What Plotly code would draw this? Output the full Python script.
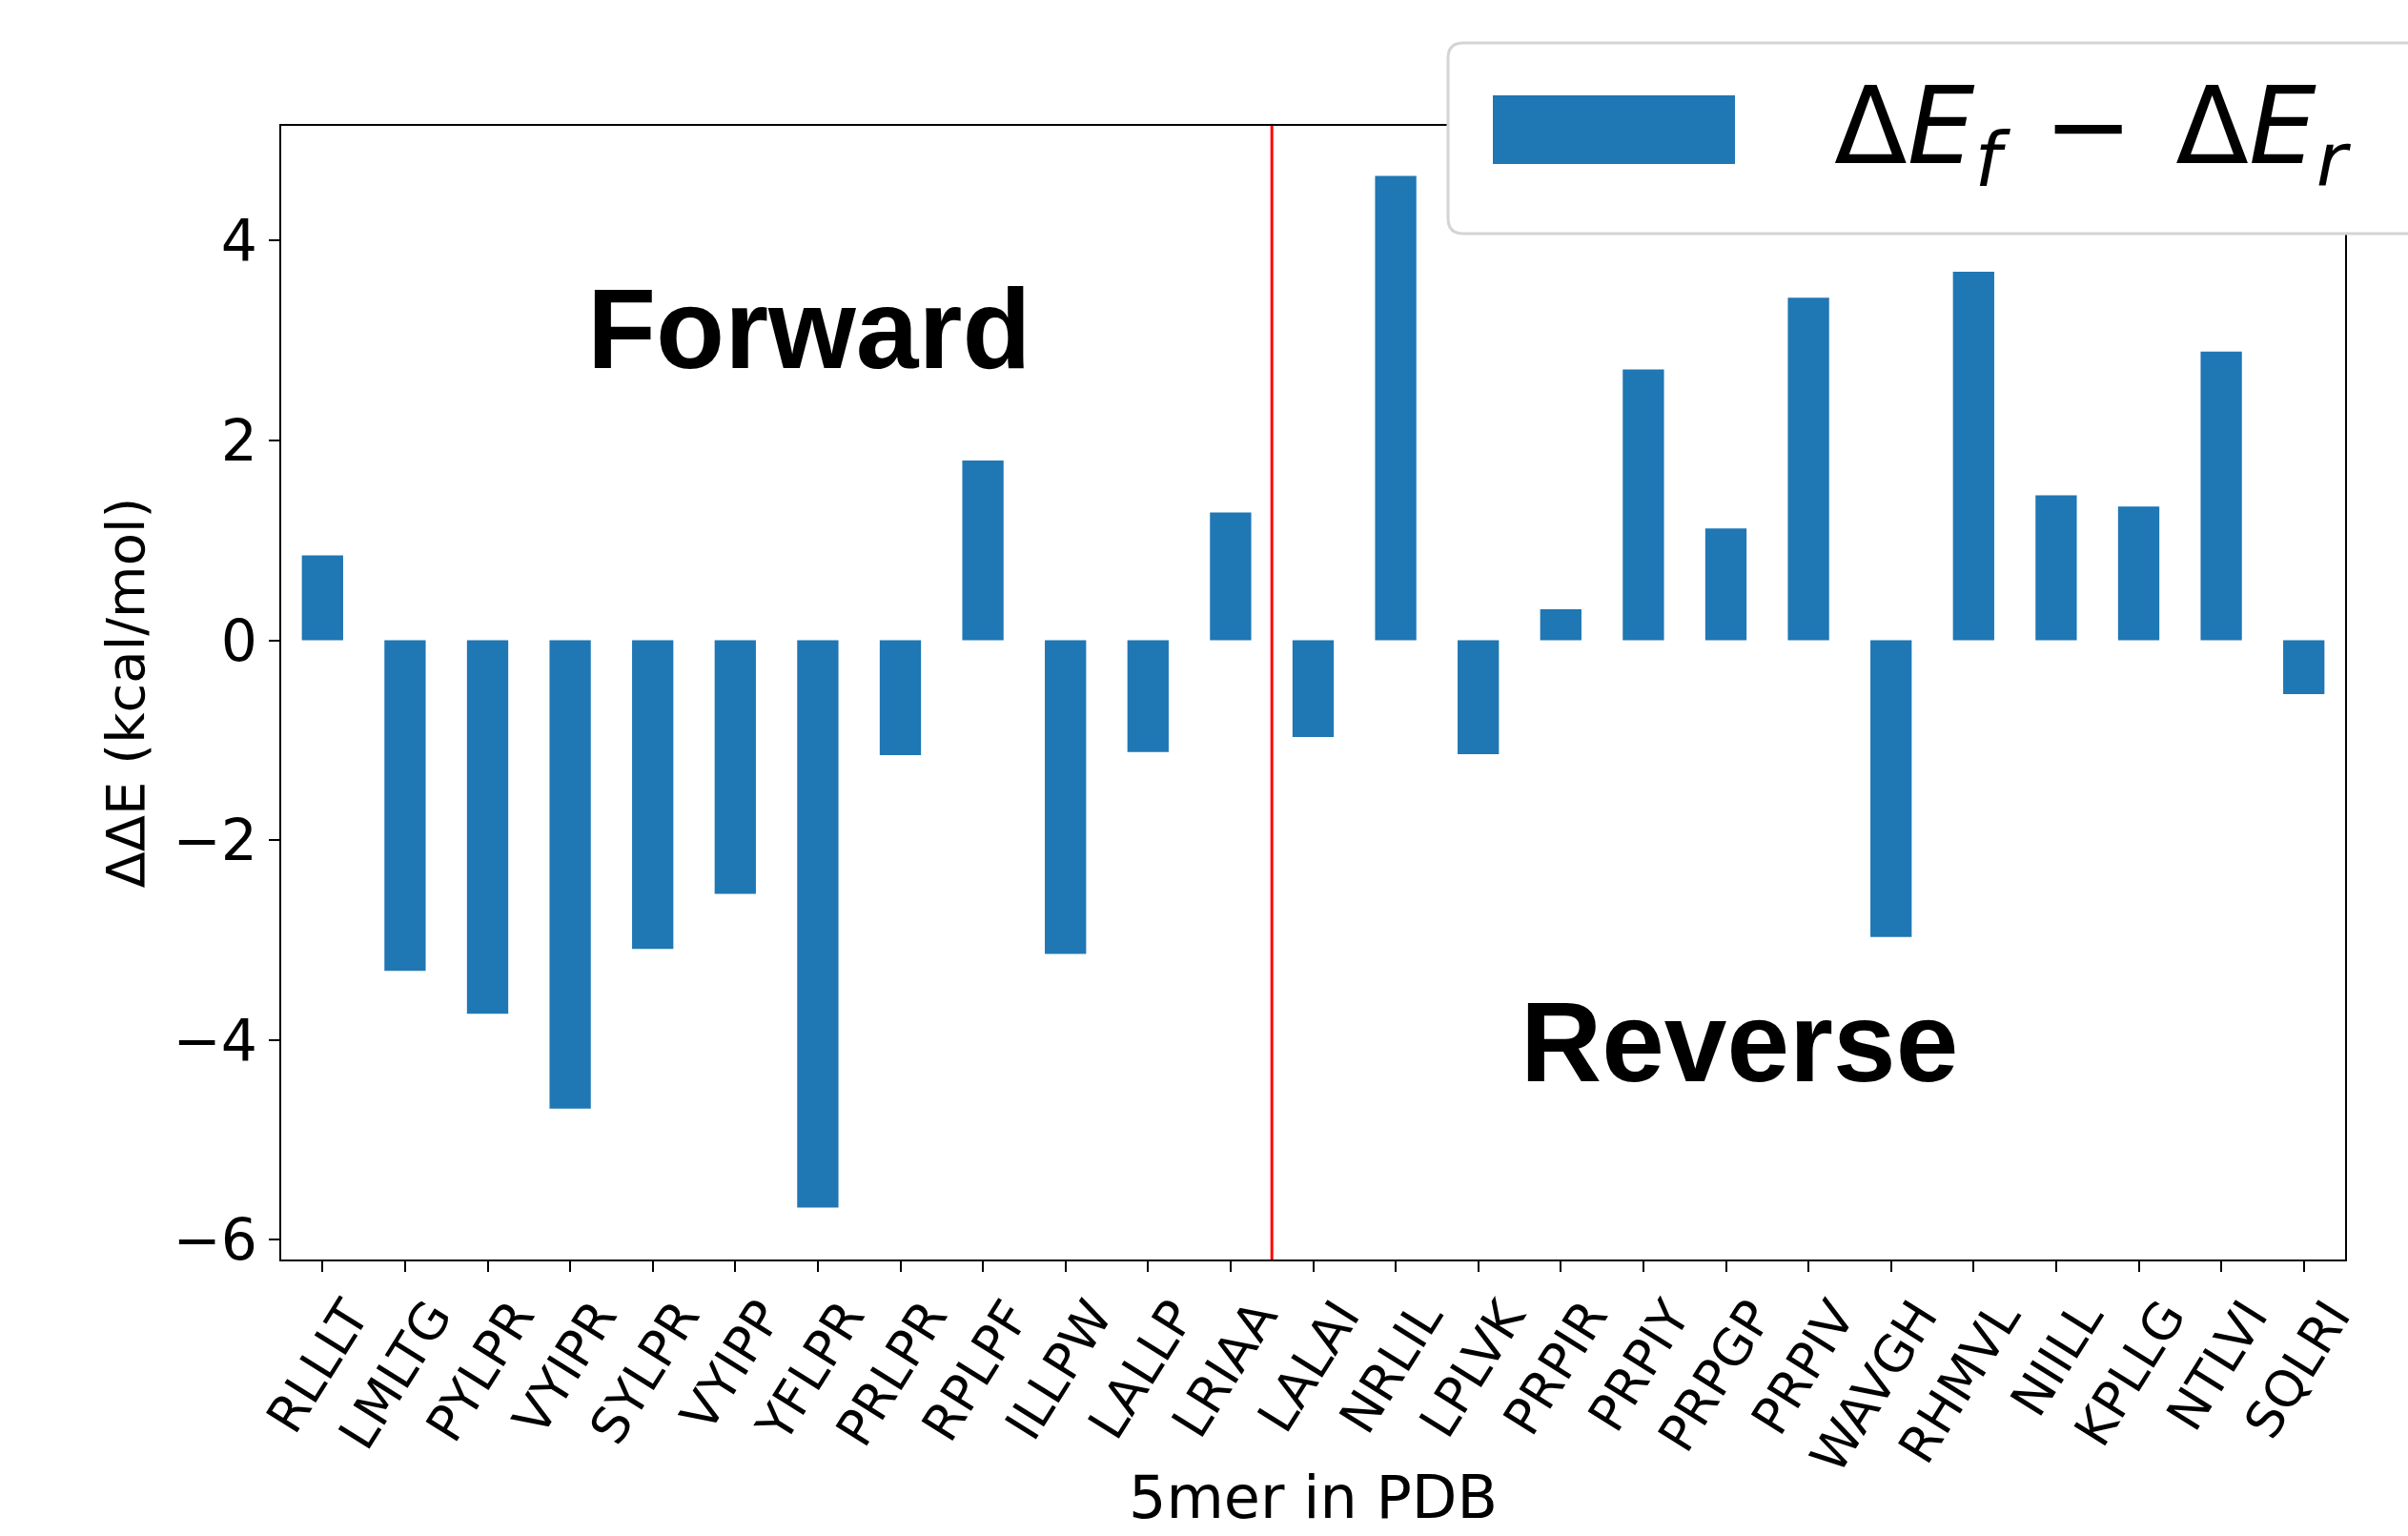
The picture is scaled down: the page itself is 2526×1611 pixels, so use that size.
import plotly.graph_objects as go

# 5-mer peptides found in the PDB and their energy difference (kcal/mol)
peptides = [
    "RLLLT", "LMLTG", "PYLPR", "VYIPR", "SYLPR", "VYIPP", "YFLPR", "PRLPR",
    "RPLPF", "ILLPW", "LALLP", "LRIAA", "LALAI", "NRLIL", "LPLVK", "PRPIR",
    "PRPIY", "PRPGP", "PRPIV", "WAVGH", "RHMVL", "NIILL", "KPLLG", "NTLVI",
    "SQLRI",
]
delta_delta_e = [
    0.85, -3.31, -3.74, -4.69, -3.09, -2.54, -5.68, -1.15,
    1.80, -3.14, -1.12, 1.28, -0.97, 4.65, -1.14, 0.31,
    2.71, 1.12, 3.43, -2.97, 3.69, 1.45, 1.34, 2.89,
    -0.54,
]
y_ticks = [-6, -4, -2, 0, 2, 4]
split_after = 11  # last "Forward" peptide index

W, H = 2526, 1611
L, R, T, B = 295, 2460, 132, 1321
BLUE = "#1f77b4"


def px(xp):
    return (xp - L) / (R - L)


def py(yp):
    return (B - yp) / (B - T)


fig = go.Figure()
fig.add_trace(go.Bar(
    x=peptides, y=delta_delta_e, width=0.5,
    marker=dict(color=BLUE, line=dict(width=0)),
    showlegend=False,
))

# divider between the forward and reverse groups
fig.add_shape(type="line", xref="x", yref="paper",
              x0=split_after + 0.5, x1=split_after + 0.5, y0=0, y1=1,
              line=dict(color="red", width=3), layer="above")

fig.update_xaxes(
    range=[-0.5, len(peptides) - 0.5], automargin=False,
    tickangle=-58, tickfont=dict(family="DejaVu Sans", size=53, color="black"),
    ticklabelshift=28, ticklabelstandoff=-6,
    showline=True, mirror=True, linecolor="black", linewidth=2,
    ticks="outside", ticklen=11, tickwidth=2, tickcolor="black",
    showgrid=False, zeroline=False,
)
fig.update_yaxes(
    range=[-6.2, 5.15], automargin=False,
    tickvals=y_ticks, tickfont=dict(family="DejaVu Sans", size=60, color="black"),
    showline=True, mirror=True, linecolor="black", linewidth=2,
    ticks="outside", ticklen=11, tickwidth=2, tickcolor="black",
    showgrid=False, zeroline=False,
)

# axis titles
fig.add_annotation(x=0.5, y=py(1570), xref="paper", yref="paper",
                   xanchor="center", yanchor="middle",
                   text="5mer in PDB", showarrow=False,
                   font=dict(family="DejaVu Sans", size=62, color="black"))
fig.add_annotation(x=px(131), y=0.5, xref="paper", yref="paper",
                   xanchor="center", yanchor="middle",
                   text="ΔΔE (kcal/mol)", showarrow=False, textangle=-90,
                   font=dict(family="DejaVu Sans", size=56, color="black"))

# group labels
fig.add_annotation(x=5.9, y=3.12, xref="x", yref="y", text="<b>Forward</b>",
                   showarrow=False, font=dict(family="Liberation Sans", size=118, color="black"))
fig.add_annotation(x=17.16, y=-4.02, xref="x", yref="y", text="<b>Reverse</b>",
                   showarrow=False, font=dict(family="Liberation Sans", size=118, color="black"))

# legend box with rounded corners
x0, x1, y0, y1 = px(1519), px(2560), py(45), py(245)
rx = 16 / (R - L)
ry = 16 / (B - T)
path = (f"M {x0 + rx},{y0} L {x1},{y0} L {x1},{y1} L {x0 + rx},{y1} "
        f"Q {x0},{y1} {x0},{y1 + ry} L {x0},{y0 - ry} Q {x0},{y0} {x0 + rx},{y0} Z")
fig.add_shape(type="path", path=path, xref="paper", yref="paper",
              fillcolor="white", line=dict(color="#d4d4d4", width=3), layer="above")
fig.add_shape(type="rect", xref="paper", yref="paper",
              x0=px(1566), x1=px(1820), y0=py(172), y1=py(100),
              fillcolor=BLUE, line=dict(width=0), layer="above")
fig.add_annotation(x=px(1922), y=py(140), xref="paper", yref="paper",
                   xanchor="left", yanchor="middle", showarrow=False,
                   text="Δ<i>E</i><sub><i>f</i></sub>\u2009\u2009−\u2009\u2009Δ<i>E</i><sub><i>r</i></sub>",
                   font=dict(family="DejaVu Sans", size=112, color="black"))

fig.update_layout(
    width=W, height=H,
    margin=dict(l=L, r=W - R, t=T, b=H - B),
    plot_bgcolor="white", paper_bgcolor="white",
    bargap=0.5,
)

fig.write_html("out.html")
